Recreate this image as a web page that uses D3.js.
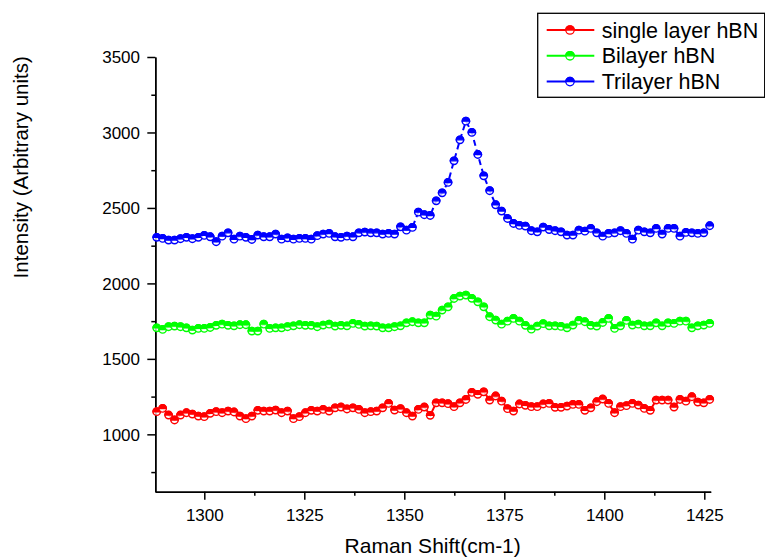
<!DOCTYPE html>
<html>
<head>
<meta charset="utf-8">
<script src="https://cdn.jsdelivr.net/npm/d3@7"></script>
<style>
  html, body { margin: 0; padding: 0; background: #fff; }
  svg { display: block; font-family: "Liberation Sans", Arial, sans-serif; }
</style>
</head>
<body>
<svg id="chart" width="765" height="557"></svg>
<script>
// Raman shift (cm-1) of each sampled point
const ramanShift = [
  1288.10,1289.59,1291.07,1292.56,1294.05,1295.53,1297.02,1298.51,1299.99,1301.48,
  1302.97,1304.45,1305.94,1307.43,1308.91,1310.40,1311.89,1313.37,1314.86,1316.35,
  1317.83,1319.32,1320.81,1322.29,1323.78,1325.27,1326.75,1328.24,1329.72,1331.21,
  1332.70,1334.18,1335.67,1337.16,1338.64,1340.13,1341.62,1343.10,1344.59,1346.08,
  1347.56,1349.05,1350.54,1352.02,1353.51,1355.00,1356.48,1357.97,1359.46,1360.94,
  1362.43,1363.92,1365.40,1366.89,1368.38,1369.86,1371.35,1372.84,1374.32,1375.81,
  1377.30,1378.78,1380.27,1381.76,1383.24,1384.73,1386.22,1387.70,1389.19,1390.68,
  1392.16,1393.65,1395.14,1396.62,1398.11,1399.60,1401.08,1402.57,1404.05,1405.54,
  1407.03,1408.51,1410.00,1411.49,1412.97,1414.46,1415.95,1417.43,1418.92,1420.41,
  1421.89,1423.38,1424.87,1426.35
];

const singleLayer = [
  1150,1172,1128,1095,1128,1143,1134,1121,1117,1139,
  1150,1143,1154,1148,1121,1104,1121,1159,1154,1154,
  1161,1143,1154,1104,1117,1143,1159,1154,1165,1154,
  1176,1181,1168,1176,1165,1143,1150,1154,1176,1205,
  1161,1170,1143,1121,1165,1181,1126,1209,1209,1203,
  1183,1209,1231,1278,1265,1282,1227,1254,1220,1170,
  1154,1201,1192,1183,1183,1201,1205,1179,1179,1187,
  1198,1198,1159,1176,1216,1234,1205,1143,1183,1190,
  1205,1194,1172,1159,1227,1227,1227,1181,1231,1220,
  1249,1214,1209,1231
];

const bilayer = [
  1706,1695,1713,1717,1713,1706,1691,1702,1702,1708,
  1722,1730,1722,1719,1726,1726,1684,1684,1730,1702,
  1706,1706,1713,1719,1726,1722,1722,1713,1724,1730,
  1717,1722,1719,1735,1728,1717,1719,1717,1706,1706,
  1713,1719,1739,1746,1739,1739,1790,1783,1823,1845,
  1900,1916,1923,1901,1878,1845,1779,1757,1730,1750,
  1768,1750,1722,1697,1717,1733,1719,1719,1715,1706,
  1724,1755,1746,1722,1717,1741,1768,1702,1719,1755,
  1724,1730,1719,1719,1739,1719,1739,1735,1750,1750,
  1706,1719,1724,1735
];

const trilayer = [
  2305,2298,2287,2287,2296,2305,2296,2305,2318,2309,
  2276,2313,2335,2293,2313,2305,2291,2320,2309,2309,
  2327,2293,2302,2293,2298,2298,2293,2316,2327,2331,
  2309,2305,2313,2309,2335,2340,2335,2335,2327,2331,
  2327,2375,2353,2371,2472,2455,2450,2547,2600,2669,
  2812,2951,3075,3000,2854,2713,2614,2521,2479,2430,
  2397,2384,2380,2349,2342,2373,2357,2349,2342,2320,
  2320,2353,2346,2364,2335,2313,2331,2335,2349,2331,
  2293,2353,2342,2335,2364,2327,2364,2364,2313,2338,
  2335,2331,2335,2382
];

const seriesNames  = ["single layer hBN", "Bilayer hBN", "Trilayer hBN"];
const seriesColors = ["#ff0000", "#00ff00", "#0000ff"];
const seriesDash   = [null, null, "6,4"];

const xTicks = [1300, 1325, 1350, 1375, 1400, 1425];
const xMinorTicks = [1287.5, 1312.5, 1337.5, 1362.5, 1387.5, 1412.5];
const yTicks = [1000, 1500, 2000, 2500, 3000, 3500];
const yMinorTicks = [750, 1250, 1750, 2250, 2750, 3250];

const svg = d3.select("#chart");

const x = d3.scaleLinear().domain([1287.75, 1426.6]).range([155.3, 710.7]);
const y = d3.scaleLinear().domain([620, 3500]).range([491.7, 57]);

// minor ticks
const gxMinor = svg.append("g").attr("transform", `translate(0,${y.range()[0]})`)
  .call(d3.axisBottom(x).tickValues(xMinorTicks.filter(v => v >= x.domain()[0]))
    .tickSize(4).tickSizeOuter(0).tickFormat(""));
const gyMinor = svg.append("g").attr("transform", `translate(${x.range()[0]},0)`)
  .call(d3.axisLeft(y).tickValues(yMinorTicks).tickSize(4).tickSizeOuter(0).tickFormat(""));

// major axes
const gx = svg.append("g").attr("transform", `translate(0,${y.range()[0]})`)
  .call(d3.axisBottom(x).tickValues(xTicks).tickSize(8).tickSizeOuter(0).tickFormat(d3.format("d")));
const gy = svg.append("g").attr("transform", `translate(${x.range()[0]},0)`)
  .call(d3.axisLeft(y).tickValues(yTicks).tickSize(8).tickSizeOuter(0).tickFormat(d3.format("d")));

[gxMinor, gyMinor, gx, gy].forEach(g => {
  g.selectAll("path.domain").attr("stroke", "#000").attr("stroke-width", 1.5);
  g.selectAll(".tick line").attr("stroke", "#000").attr("stroke-width", 1.5);
});
gx.selectAll(".tick text").attr("y", 29).attr("dy", 0)
  .attr("font-size", 17).attr("fill", "#000").attr("font-family", "Liberation Sans, Arial, sans-serif");
gy.selectAll(".tick text").attr("x", -15.3).attr("dy", "0.35em")
  .attr("font-size", 17).attr("fill", "#000").attr("font-family", "Liberation Sans, Arial, sans-serif");

// axis titles
svg.append("text").attr("x", 432.7).attr("y", 552.5)
  .attr("text-anchor", "middle").attr("font-size", 21).attr("fill", "#000")
  .text("Raman Shift(cm-1)");
svg.append("text").attr("transform", "translate(28,167.3) rotate(-90)")
  .attr("text-anchor", "middle").attr("font-size", 20.5).attr("fill", "#000")
  .text("Intensity (Arbitrary units)");

// half-filled circle marker
const R = 3.7;
const upperHalf = r => `M${-r},0A${r},${r} 0 0 1 ${r},0Z`;
function drawMarker(g, cx, cy, color, r) {
  const m = g.append("g").attr("transform", `translate(${cx},${cy})`);
  m.append("circle").attr("r", r).attr("fill", "#fff").attr("fill-opacity", 0.75)
    .attr("stroke", color).attr("stroke-width", 1.4);
  m.append("path").attr("d", upperHalf(r)).attr("fill", color)
    .attr("stroke", color).attr("stroke-width", 1.4);
}

const allSeries = [singleLayer, bilayer, trilayer];
const line = d3.line().x(d => x(d[0])).y(d => y(d[1]));

allSeries.forEach((vals, s) => {
  const pts = ramanShift.map((xv, i) => [xv, vals[i]]);
  const g = svg.append("g");
  g.append("path").attr("d", line(pts)).attr("fill", "none")
    .attr("stroke", seriesColors[s]).attr("stroke-width", 2)
    .attr("stroke-dasharray", seriesDash[s]);
  pts.forEach(p => drawMarker(g, x(p[0]), y(p[1]), seriesColors[s], R));
});

// legend
const lg = svg.append("g");
lg.append("rect").attr("x", 537.7).attr("y", 13.3).attr("width", 227).attr("height", 84)
  .attr("fill", "#fff").attr("stroke", "#000").attr("stroke-width", 1.3);
const rowY = [30, 55.8, 81.6];
seriesNames.forEach((name, i) => {
  lg.append("line").attr("x1", 546.7).attr("x2", 594.3).attr("y1", rowY[i]).attr("y2", rowY[i])
    .attr("stroke", seriesColors[i]).attr("stroke-width", 2);
  const m = lg.append("g").attr("transform", `translate(570,${rowY[i]})`);
  m.append("circle").attr("r", 4.2).attr("fill", "#fff").attr("stroke", seriesColors[i]).attr("stroke-width", 1.3);
  m.append("path").attr("d", upperHalf(4.2)).attr("fill", seriesColors[i]).attr("stroke", seriesColors[i]).attr("stroke-width", 1.3);
  lg.append("text").attr("x", 601.7).attr("y", rowY[i]).attr("dy", "0.35em")
    .attr("font-size", 21.5).attr("fill", "#000").text(name);
});
</script>
</body>
</html>
